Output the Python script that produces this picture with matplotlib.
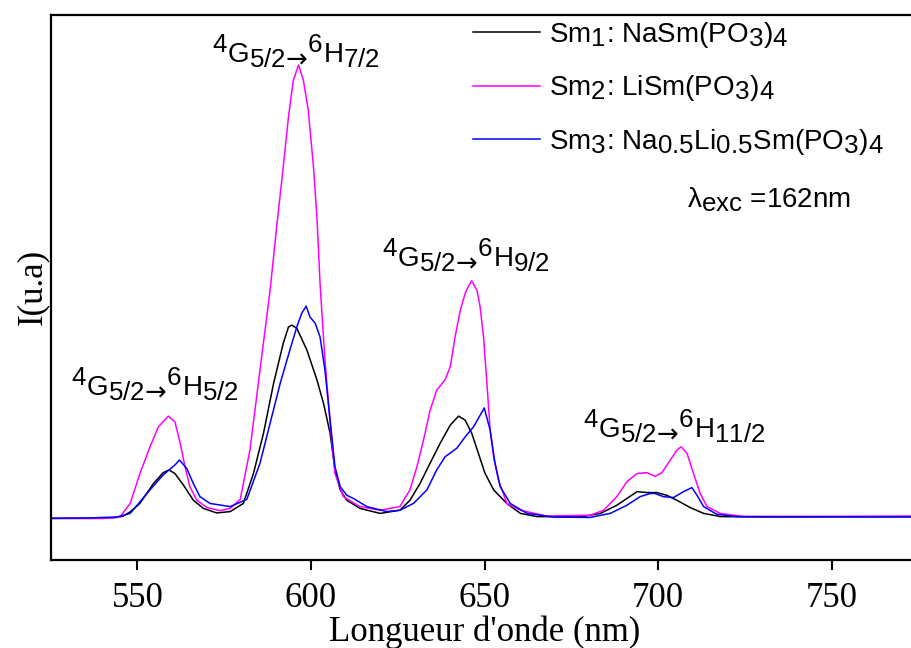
import matplotlib
matplotlib.use("Agg")
import matplotlib.pyplot as plt
import matplotlib._mathtext as mt

# the original figure uses near full-size subscripts
mt.SHRINK_FACTOR = 0.93

plt.rcParams['mathtext.fontset'] = 'custom'
plt.rcParams['mathtext.rm'] = 'Liberation Sans'
plt.rcParams['mathtext.it'] = 'Liberation Sans:italic'
plt.rcParams['mathtext.bf'] = 'Liberation Sans:bold'
plt.rcParams['mathtext.sf'] = 'DejaVu Sans'   # only used for the arrow

# Sm1 : NaSm(PO3)4  (black)
sm1_nm = [525, 540, 544, 545.9, 548, 550.7, 554.6, 557.4, 559.1, 560.8, 563.2, 566.1, 569.0,
          572.8, 576.7, 580.5, 583.4, 586.3, 589.2, 592.0, 593.5, 594.5, 595.9, 598.8, 601.7,
          603.6, 605.5, 606.9, 608.4, 610.3, 614.1, 619.9, 625.6, 628.5, 631.4, 634.3, 637.2,
          640.1, 642.5, 644.4, 646.3, 648.2, 650.1, 652.6, 656.4, 660.3, 665, 677.6, 683.4,
          688.1, 691.0, 693.9, 696.8, 699.6, 702.5, 705.4, 709.2, 713.1, 717.9, 730, 775]
sm1_int = [0.0, 0.0, 0.2, 0.5, 1.5, 3.3, 7.7, 10.1, 10.7, 9.9, 7.4, 4.0, 2.2,
           1.2, 1.5, 3.3, 9.9, 18.8, 29.8, 38.7, 42.3, 42.7, 42.0, 37.2, 30.6,
           25.4, 18.8, 10.7, 6.3, 4.0, 2.2, 1.1, 1.8, 4.0, 7.7, 12.2, 16.6,
           20.6, 22.6, 21.7, 18.8, 14.4, 10.0, 6.3, 3.3, 1.1, 0.4, 0.3, 1.1,
           2.9, 4.4, 5.9, 5.7, 5.7, 5.1, 4.0, 2.4, 1.1, 0.4, 0.3, 0.4]

# Sm2 : LiSm(PO3)4  (magenta)
sm2_nm = [525, 541, 545.0, 547.9, 550.7, 553.6, 556.0, 558.9, 560.8, 562.3, 563.7, 565.1, 567.1,
          570.0, 573.8, 576.7, 579.6, 582.4, 585.3, 588.2, 590.1, 592.0, 593.5, 594.9, 596.4,
          597.8, 599.2, 600.7, 601.7, 602.6, 604.0, 605.5, 606.9, 609.3, 614.1, 619.9, 625.6,
          628.5, 630.5, 632.4, 634.3, 636.2, 638.6, 640.1, 641.5, 643.0, 644.4, 645.3, 646.3,
          647.8, 648.7, 649.7, 650.6, 651.6, 652.6, 654.0, 656.4, 660.3, 667.9, 680.4, 684.3,
          688.1, 691.0, 693.9, 696.8, 699.1, 701.1, 703.5, 705.4, 706.6, 708.3, 710.2, 712.1,
          714.1, 717.9, 724.6, 775]
sm2_int = [0.0, 0.0, 0.35, 3.3, 9.9, 15.8, 20.2, 22.6, 21.3, 16.6, 11.4, 7.0, 4.0,
           2.4, 1.7, 2.2, 4.2, 15.1, 32.8, 50.4, 64.4, 77.7, 88.7, 96.8, 100.2,
           96.8, 90.2, 77.7, 66.6, 51.9, 35.0, 21.0, 9.9, 4.8, 2.6, 1.8, 2.6,
           6.3, 11.4, 17.3, 23.9, 28.3, 30.6, 33.5, 40.1, 46.0, 49.7, 51.2, 52.5,
           50.4, 46.8, 40.1, 30.6, 19.5, 13.6, 8.5, 3.3, 1.8, 0.5, 0.7, 1.8,
           4.8, 8.1, 9.9, 10.1, 9.3, 10.1, 12.9, 15.1, 15.8, 14.4, 9.9, 5.5,
           2.6, 1.1, 0.4, 0.5]

# Sm3 : Na0.5Li0.5Sm(PO3)4  (blue)
sm3_nm = [525, 536.3, 544, 547.9, 553.6, 557.4, 560.8, 562.1, 564.2, 566.1, 568.0, 570.9, 576.7,
          581.5, 585.3, 588.2, 591.1, 593.9, 595.9, 597.3, 598.6, 599.7, 601.2, 602.6, 604.0,
          605.5, 606.9, 608.4, 610.3, 612.2, 616.1, 621.8, 625.6, 629.5, 633.4, 636.2, 638.6,
          642.0, 644.4, 646.8, 649.9, 651.6, 653.0, 654.5, 657.4, 662.2, 670, 680.4, 686.2,
          691.0, 694.8, 697.7, 699.1, 701.5, 704.4, 707.3, 709.7, 711.2, 713.1, 716.9, 722.7, 775]
sm3_int = [0.0, 0.1, 0.3, 1.1, 6.3, 9.6, 11.8, 12.9, 11.0, 7.7, 4.8, 3.3, 2.6,
           4.2, 12.2, 21.0, 29.8, 37.2, 42.3, 45.3, 46.9, 44.5, 43.1, 40.1, 32.8,
           21.7, 11.4, 7.0, 5.1, 4.4, 2.6, 1.5, 1.8, 3.3, 6.3, 10.7, 13.6,
           15.5, 18.0, 20.2, 24.4, 19.5, 12.2, 7.0, 3.3, 1.1, 0.3, 0.2, 1.1,
           2.9, 4.8, 5.5, 5.5, 4.8, 4.6, 5.9, 6.8, 5.1, 2.6, 0.9, 0.4, 0.3]

labels = [r'Sm$_1$: NaSm(PO$_3$)$_4$',
          r'Sm$_2$: LiSm(PO$_3$)$_4$',
          r'Sm$_3$: Na$_{0.5}$Li$_{0.5}$Sm(PO$_3$)$_4$']
colors = ['black', '#ff00ff', '#0000ff']

# transition labels: (text, left nm, baseline intensity)
transitions = [
    (r'$^4$G$_{5/2\mathsf{→}}$$^6$H$_{7/2}$', 571.5, 100.6),
    (r'$^4$G$_{5/2\mathsf{→}}$$^6$H$_{5/2}$', 530.8, 26.9),
    (r'$^4$G$_{5/2\mathsf{→}}$$^6$H$_{9/2}$', 620.5, 55.5),
    (r'$^4$G$_{5/2\mathsf{→}}$$^6$H$_{11/2}$', 678.4, 17.7),
]

sans = ['Liberation Sans', 'DejaVu Sans']

fig = plt.figure(figsize=(9.12, 6.48), dpi=100)
ax = fig.add_axes([0.0556, 0.1358, 0.9515, 0.8415])

series = [(sm1_nm, sm1_int), (sm2_nm, sm2_int), (sm3_nm, sm3_int)]
for (x, y), lab, c in zip(series, labels, colors):
    ax.plot(x, y, color=c, lw=1.1, label=lab)

ax.set_xlim(525, 775)
ax.set_ylim(-9.2, 111.3)
ax.set_xticks([550, 600, 650, 700, 750])
ax.set_yticks([])
for s in ['left', 'bottom', 'top', 'right']:
    ax.spines[s].set_linewidth(1.6)
ax.tick_params(axis='x', direction='out', length=7.5, width=1.5, labelsize=25, pad=8)
for t in ax.get_xticklabels():
    t.set_fontfamily('Liberation Serif')

ax.set_xlabel("Longueur d'onde (nm)", fontsize=25, family='Liberation Serif', labelpad=1)
ax.set_ylabel("I(u.a)", fontsize=25, family='Liberation Serif', labelpad=1)

for txt, xs, ys in transitions:
    ax.text(xs, ys, txt, fontsize=20, family=sans, ha='left', va='baseline')

ax.text(708.3, 68.8, r'λ$_{\mathrm{exc}}$ =162nm', fontsize=20, family=sans,
        ha='left', va='baseline')

leg = ax.legend(loc='upper left', bbox_to_anchor=(473 / 912, 1 - 20 / 648),
                bbox_transform=fig.transFigure, frameon=False,
                prop={'family': 'Liberation Sans', 'size': 20},
                handlelength=2.4, handletextpad=0.33, labelspacing=0.84,
                borderpad=0, borderaxespad=0)

fig.savefig('out.png', dpi=100)
